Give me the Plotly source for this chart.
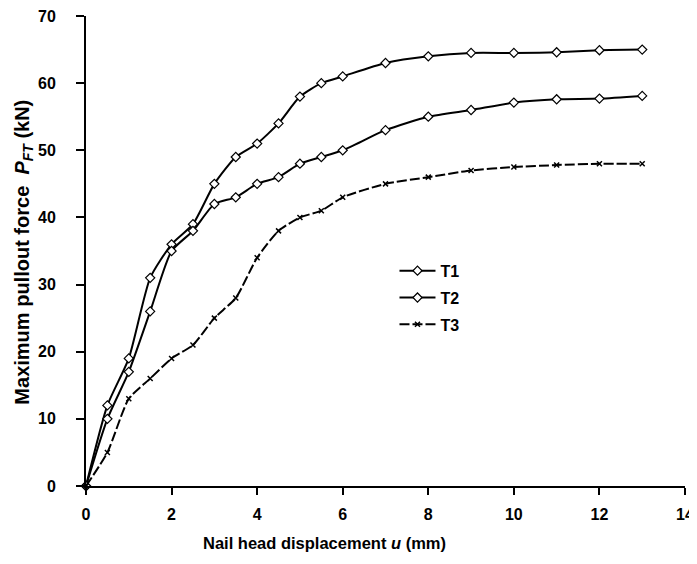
import plotly.graph_objects as go

u = [0, 0.5, 1, 1.5, 2, 2.5, 3, 3.5, 4, 4.5, 5, 5.5, 6, 7, 8, 9, 10, 11, 12, 13]
t1 = [0, 12, 19, 31, 36, 39, 45, 49, 51, 54, 58, 60, 61, 63, 64, 64.5, 64.5, 64.6, 64.9, 65]
t2 = [0, 10, 17, 26, 35, 38, 42, 43, 45, 46, 48, 49, 50, 53, 55, 56, 57.1, 57.6, 57.7, 58.1]
t3 = [0, 5, 13, 16, 19, 21, 25, 28, 34, 38, 40, 41, 43, 45, 46, 47, 47.5, 47.8, 48, 48]

FONT = "Liberation Sans, Arial, sans-serif"

fig = go.Figure()
fig.add_trace(go.Scatter(
    x=u, y=t1, name="T1", mode="lines+markers", legendgroup="a",
    line=dict(color="black", width=2, shape="spline", smoothing=0.6),
    marker=dict(symbol="diamond", size=7, color="white", line=dict(color="black", width=1.2)),
    cliponaxis=False))
fig.add_trace(go.Scatter(
    x=u, y=t2, name="T2", mode="lines+markers", legendgroup="b",
    line=dict(color="black", width=2, shape="spline", smoothing=0.6),
    marker=dict(symbol="diamond", size=7, color="white", line=dict(color="black", width=1.2)),
    cliponaxis=False))
fig.add_trace(go.Scatter(
    x=u, y=t3, name="T3", mode="lines+markers", legendgroup="c",
    line=dict(color="black", width=2, dash="10px,3px", shape="spline", smoothing=0.6),
    marker=dict(symbol="x-thin", size=5, color="black", line=dict(color="black", width=1.5)),
    cliponaxis=False))

fig.update_layout(
    width=689, height=556,
    margin=dict(l=78, r=12, t=8, b=78),
    paper_bgcolor="white", plot_bgcolor="white",
    font=dict(family=FONT, size=14, color="black"),
    showlegend=True,
    legend=dict(x=0.515, y=0.494, xanchor="left", yanchor="top",
                bgcolor="rgba(0,0,0,0)",
                font=dict(family=FONT, size=16, color="black", weight="bold"),
                itemwidth=36, tracegroupgap=3),
    xaxis=dict(range=[0, 14], dtick=2, showgrid=False, zeroline=False,
               showline=True, linecolor="black", linewidth=2, automargin=False,
               ticks="outside", ticklen=7, tickwidth=2, tickcolor="black",
               ticklabelstandoff=6, ticklabeloverflow="allow",
               tickfont=dict(family=FONT, size=16, color="black", weight="bold")),
    yaxis=dict(range=[0, 70], dtick=10, showgrid=False, zeroline=False,
               showline=True, linecolor="black", linewidth=2, automargin=False,
               ticks="outside", ticklen=8, tickwidth=2, tickcolor="black",
               ticklabelstandoff=17, ticklabeloverflow="allow",
               tickfont=dict(family=FONT, size=16, color="black", weight="bold")),
    annotations=[
        dict(text="Nail head displacement <i>u</i> (mm)",
             xref="x", x=5.58, yref="paper", y=-0.121,
             xanchor="center", yanchor="middle", showarrow=False,
             font=dict(family=FONT, size=16.5, color="black", weight="bold")),
        dict(text="Maximum pullout force  <i>P</i><sub><i>FT</i></sub> (kN)",
             xref="paper", x=-0.104, yref="paper", y=0.498, textangle=-90,
             xanchor="center", yanchor="middle", showarrow=False,
             font=dict(family=FONT, size=20, color="black", weight="bold")),
    ],
)

fig.write_html("out.html")
